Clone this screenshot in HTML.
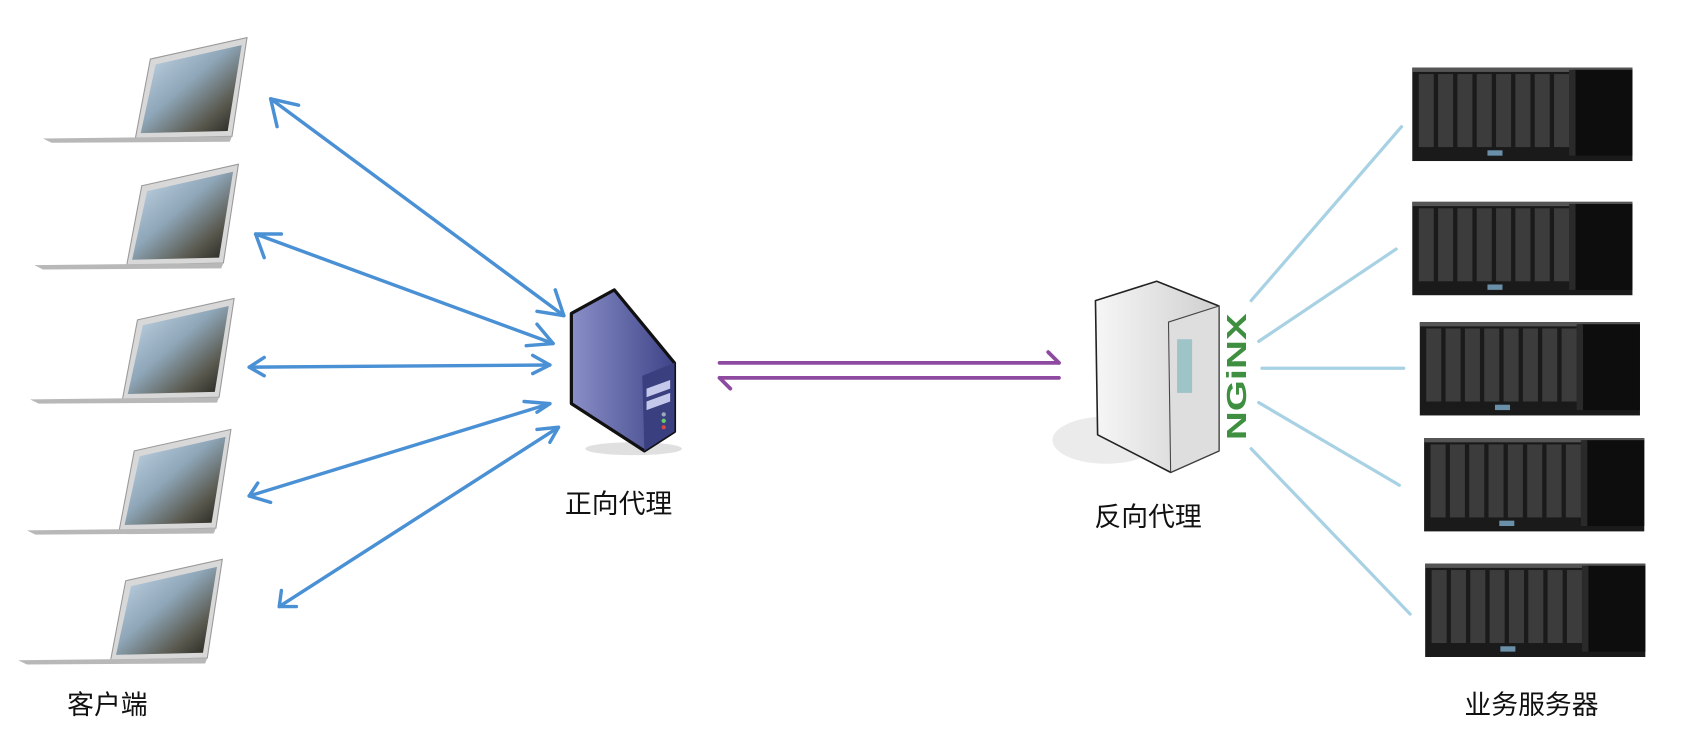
<!DOCTYPE html>
<html><head><meta charset="utf-8"><style>
html,body{margin:0;padding:0;background:#fff;width:1684px;height:730px;overflow:hidden}
svg{display:block}
text{font-family:"Liberation Sans","Noto Sans CJK SC",sans-serif}
</style></head><body>
<svg width="1684" height="730" viewBox="0 0 1568 680" preserveAspectRatio="none" xmlns="http://www.w3.org/2000/svg">
<defs>
<linearGradient id="scr" x1="0" y1="0" x2="1" y2="1">
<stop offset="0" stop-color="#c9dcec"/><stop offset="0.45" stop-color="#8ea6b8"/><stop offset="0.75" stop-color="#5a5a50"/><stop offset="1" stop-color="#1e1e1a"/></linearGradient>
<g id="lap">
<polygon points="140,55 230,35 216,127 126,129" fill="#d8d8d8" stroke="#999" stroke-width="1"/>
<polygon points="145,60 225,42 212,122 131,124" fill="url(#scr)"/>
<polygon points="40,129 216,127 214,132 48,133" fill="#b8b8b8"/>
</g>
<linearGradient id="blu" x1="0" y1="0" x2="1" y2="0"><stop offset="0" stop-color="#8a8fc8"/><stop offset="1" stop-color="#3e4488"/></linearGradient>
<linearGradient id="wht" x1="0" y1="0" x2="1" y2="0"><stop offset="0" stop-color="#f6f6f6"/><stop offset="1" stop-color="#cfcfcf"/></linearGradient>
<g id="rack">
<rect x="0" y="0" width="205" height="87" fill="#1a1a1a"/>
<rect x="0" y="0" width="205" height="4" fill="#555"/>
<rect x="150" y="2" width="55" height="80" fill="#0d0d0d"/>
<rect x="146" y="2" width="6" height="80" fill="#2a2a2a"/>
<g fill="#3c3c3c">
<rect x="6" y="6" width="14" height="68"/><rect x="24" y="6" width="14" height="68"/><rect x="42" y="6" width="14" height="68"/><rect x="60" y="6" width="14" height="68"/><rect x="78" y="6" width="14" height="68"/><rect x="96" y="6" width="14" height="68"/><rect x="114" y="6" width="14" height="68"/><rect x="132" y="6" width="14" height="68"/>
</g>
<rect x="70" y="77" width="14" height="5" fill="#6a8fa8"/>
</g>
</defs>
<use href="#lap"/>
<use href="#lap" transform="translate(-8,118)"/>
<use href="#lap" transform="translate(-12,243)"/>
<use href="#lap" transform="translate(-15,365)"/>
<use href="#lap" transform="translate(-23,486)"/>
<g stroke="#4a90d4" stroke-width="3.2" fill="none" stroke-linecap="round" stroke-linejoin="round">
<line x1="525" y1="294" x2="252" y2="92"/><polyline points="258,118 252,92 278,98"/><polyline points="517,270 525,294 500,290"/>
<line x1="515" y1="320" x2="238" y2="218"/><polyline points="246,240 238,218 262,218"/><polyline points="500,302 515,320 490,322"/>
<line x1="512" y1="340" x2="232" y2="342"/><polyline points="246,333 232,342 246,350"/><polyline points="496,331 512,340 496,348"/>
<line x1="512" y1="376" x2="232" y2="462"/><polyline points="240,450 232,462 252,468"/><polyline points="488,374 512,376 500,384"/>
<line x1="520" y1="398" x2="260" y2="565"/><polyline points="262,550 260,565 276,565"/><polyline points="500,400 520,398 512,412"/>
</g>
<!-- forward proxy server -->
<ellipse cx="590" cy="418" rx="45" ry="6" fill="#ccc" opacity="0.6"/>
<polygon points="532,292 572,270 628,338 628,402 600,420 532,376" fill="url(#blu)" stroke="#111" stroke-width="3" stroke-linejoin="round"/>
<polygon points="598,350 628,338 628,402 600,420" fill="#3a3f80"/>
<polygon points="602,362 624,354 624,362 602,370" fill="#c4c8ea"/>
<polygon points="602,374 624,366 624,374 602,382" fill="#c4c8ea"/>
<circle cx="618" cy="386" r="2" fill="#9ab"/><circle cx="618" cy="392" r="2" fill="#6c6"/><circle cx="618" cy="398" r="2" fill="#d44"/>
<g stroke="#8e4aa0" stroke-width="3.5" fill="none" stroke-linecap="round">
<line x1="670" y1="338" x2="986" y2="338"/><polyline points="976,328 986,338"/>
<line x1="670" y1="352" x2="986" y2="352"/><polyline points="680,362 670,352"/>
</g>
<!-- reverse proxy -->
<ellipse cx="1030" cy="410" rx="50" ry="22" fill="#ddd" opacity="0.6"/>
<polygon points="1020,280 1077,262 1135,285 1135,420 1090,440 1022,405" fill="url(#wht)" stroke="#222" stroke-width="1.5" stroke-linejoin="round"/>
<polygon points="1088,300 1135,285 1135,420 1090,440" fill="#dedede" stroke="#444" stroke-width="1"/>
<rect x="1096" y="316" width="14" height="50" fill="#9fc4c8"/>
<text transform="translate(1160,410) rotate(-90)" font-size="26" font-weight="bold" fill="#3e9040" textLength="118" lengthAdjust="spacingAndGlyphs">NGiNX</text>
<g stroke="#a8d2e4" stroke-width="3" stroke-linecap="round">
<line x1="1165" y1="280" x2="1305" y2="118"/>
<line x1="1172" y1="318" x2="1300" y2="232"/>
<line x1="1175" y1="343" x2="1307" y2="343"/>
<line x1="1172" y1="375" x2="1303" y2="452"/>
<line x1="1165" y1="418" x2="1313" y2="572"/>
</g>
<use href="#rack" transform="translate(1315,63)"/>
<use href="#rack" transform="translate(1315,188)"/>
<use href="#rack" transform="translate(1322,300)"/>
<use href="#rack" transform="translate(1326,408)"/>
<use href="#rack" transform="translate(1327,525)"/>
<g font-size="25" fill="#111" text-anchor="middle">
<text x="576" y="478">正向代理</text>
<text x="1069" y="490">反向代理</text>
<text x="100" y="665">客户端</text>
<text x="1426" y="665">业务服务器</text>
</g>
</svg>
</body></html>
